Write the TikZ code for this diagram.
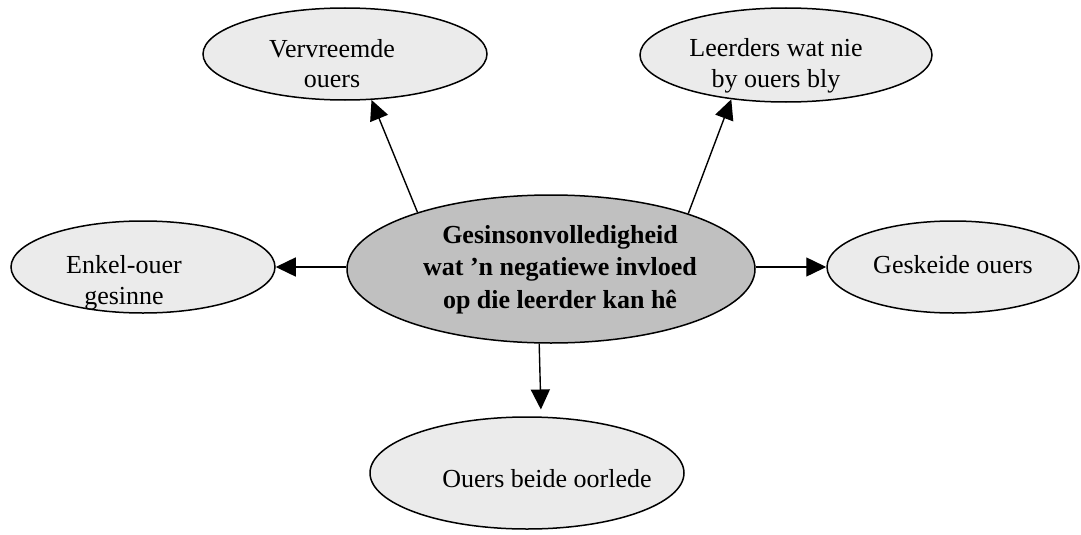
\documentclass[tikz,border=0pt]{standalone}
\usepackage{fontspec}
\setmainfont{Liberation Serif}
\usetikzlibrary{arrows.meta,shapes.geometric}
\definecolor{centerfill}{HTML}{C0C0C0}
\definecolor{leaffill}{HTML}{EBEBEB}
\tikzset{
  bubble/.style={ellipse, draw=black, line width=1.5pt, fill=leaffill, inner sep=0pt},
  hub/.style={bubble, fill=centerfill},
  lbl/.style={align=center, inner sep=0pt, anchor=base, font=\fontsize{26}{31}\selectfont},
  hublbl/.style={lbl, font=\fontsize{26}{32.5}\selectfont\bfseries},
  conn/.style={line width=1.4pt, -{Triangle[length=20pt,width=19pt]}}
}
\begin{document}
\begin{tikzpicture}[x=1pt,y=-1pt]
\useasboundingbox (0,0) rectangle (1081,535);
\node[hub, minimum width=408pt, minimum height=148pt] (c) at (551,269) {};
\node[bubble, minimum width=284pt, minimum height=92pt] (v) at (345,54) {};
\node[bubble, minimum width=292pt, minimum height=94pt] (l) at (786,55) {};
\node[bubble, minimum width=264pt, minimum height=92pt] (e) at (143,267) {};
\node[bubble, minimum width=252pt, minimum height=92pt] (g) at (953,267) {};
\node[bubble, minimum width=314pt, minimum height=112pt] (o) at (527,473) {};
% base anchor = baseline of the last line
\node[lbl] (vt) at (332,88) {Vervreemde\\ouers};
\node[lbl] (lt) at (776,87) {Leerders wat nie\\by ouers bly};
\node[lbl] (et) at (124,304) {Enkel-ouer\\gesinne};
\node[lbl] (gt) at (953,273) {Geskeide ouers};
\node[hublbl] (ct) at (560,308) {Gesinsonvolledigheid\\wat ’n negatiewe invloed\\op die leerder kan hê};
\node[lbl] (ot) at (547,487) {Ouers beide oorlede};
\draw[conn] (c.157.2) -- (v.300.4);
\draw[conn] (c.22.7) -- (l.219.3);
\draw[conn] (c.west |- e.east) -- (e.east);
\draw[conn] (c.east |- g.west) -- (g.west);
\draw[conn, shorten >=7pt] (c.261.5) -- (o.76.9);
\end{tikzpicture}
\end{document}
